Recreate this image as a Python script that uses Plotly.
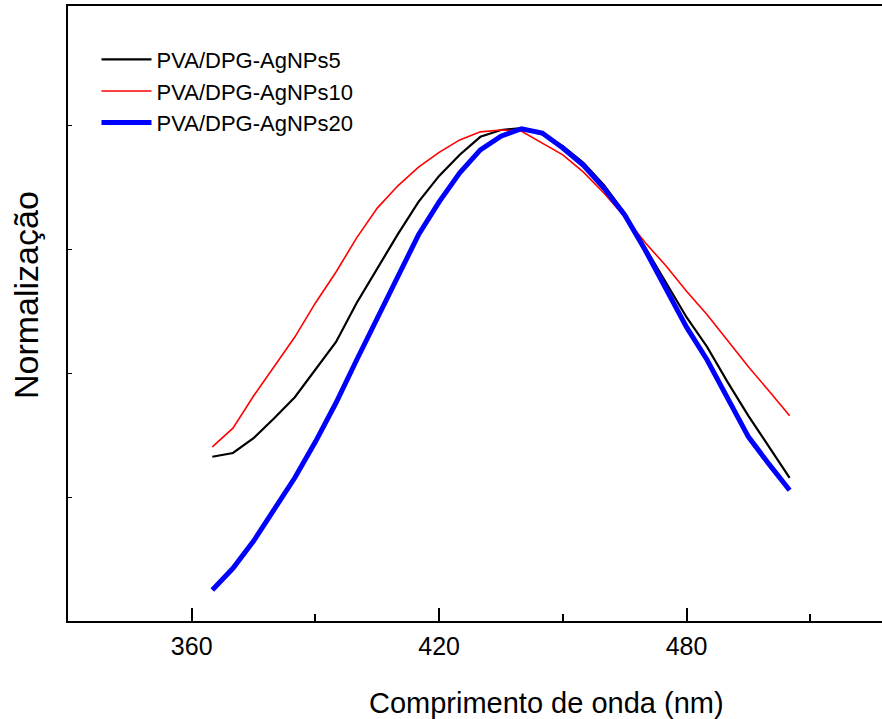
import plotly.graph_objects as go

wavelength = [365, 370, 375, 380, 385, 390, 395, 400, 405, 410, 415, 420, 425, 430, 435,
              440, 445, 450, 455, 460, 465, 470, 475, 480, 485, 490, 495, 500, 505]

agnps5 = [0.265, 0.271, 0.295, 0.327, 0.361, 0.406, 0.450, 0.513, 0.569, 0.624, 0.676, 0.718,
          0.752, 0.781, 0.792, 0.795, 0.785, 0.766, 0.739, 0.703, 0.658, 0.602, 0.547, 0.490,
          0.442, 0.385, 0.331, 0.281, 0.231]

agnps10 = [0.281, 0.311, 0.363, 0.411, 0.458, 0.513, 0.563, 0.618, 0.666, 0.702, 0.732, 0.756,
           0.776, 0.789, 0.792, 0.790, 0.771, 0.752, 0.724, 0.690, 0.652, 0.610, 0.573, 0.532,
           0.494, 0.452, 0.410, 0.371, 0.331]

agnps20 = [0.050, 0.085, 0.129, 0.179, 0.231, 0.289, 0.352, 0.421, 0.489, 0.556, 0.623, 0.676,
           0.723, 0.760, 0.782, 0.794, 0.787, 0.763, 0.735, 0.698, 0.655, 0.598, 0.537, 0.474,
           0.421, 0.358, 0.297, 0.253, 0.211]

series_names = ["PVA/DPG-AgNPs5", "PVA/DPG-AgNPs10", "PVA/DPG-AgNPs20"]
x_tick_vals = [360, 420, 480]
x_title = "Comprimento de onda (nm)"
y_title = "Normalização"

fig = go.Figure()
fig.add_trace(go.Scatter(x=wavelength, y=agnps5, mode="lines", name=series_names[0],
                         line=dict(color="#000000", width=2.2)))
fig.add_trace(go.Scatter(x=wavelength, y=agnps10, mode="lines", name=series_names[1],
                         line=dict(color="#ff0000", width=1.6)))
fig.add_trace(go.Scatter(x=wavelength, y=agnps20, mode="lines", name=series_names[2],
                         line=dict(color="#0000ff", width=5)))

regular = "Liberation Sans, Arial, sans-serif"

fig.update_layout(
    width=882, height=719,
    margin=dict(l=68, r=0, t=6, b=98),
    paper_bgcolor="white", plot_bgcolor="white",
    showlegend=True,
    legend=dict(x=0.035, y=0.947, xanchor="left", yanchor="top",
                font=dict(family=regular, size=22, color="black"),
                bgcolor="rgba(0,0,0,0)", borderwidth=0, tracegroupgap=0,
                itemwidth=50),
    xaxis=dict(range=[330, 527.4], showgrid=False, zeroline=False,
               showline=True, linecolor="black", linewidth=2, mirror=True,
               ticks="inside", ticklen=13, tickwidth=1.5, tickcolor="black",
               tickvals=x_tick_vals, ticktext=[str(v) for v in x_tick_vals],
               tickfont=dict(family=regular, size=25, color="black"),
               ticklabelstandoff=2,
               minor=dict(ticks="inside", ticklen=7, tickwidth=1.5, tickcolor="black",
                          dtick=30, tick0=330)),
    yaxis=dict(range=[0, 0.992], showgrid=False, zeroline=False,
               showline=True, linecolor="black", linewidth=2, mirror=False,
               ticks="inside", ticklen=4, tickwidth=1, tickcolor="black",
               dtick=0.2, tick0=0, showticklabels=False),
    annotations=[
        dict(text=x_title, xref="paper", yref="paper", x=0.588, y=-0.1333,
             xanchor="center", yanchor="middle", showarrow=False,
             font=dict(family=regular, size=29, color="black")),
        dict(text=y_title, xref="paper", yref="paper", x=-0.0516, y=0.530,
             xanchor="center", yanchor="middle", showarrow=False, textangle=-90,
             font=dict(family=regular, size=34, color="black")),
    ],
)

fig.write_html("out.html")
